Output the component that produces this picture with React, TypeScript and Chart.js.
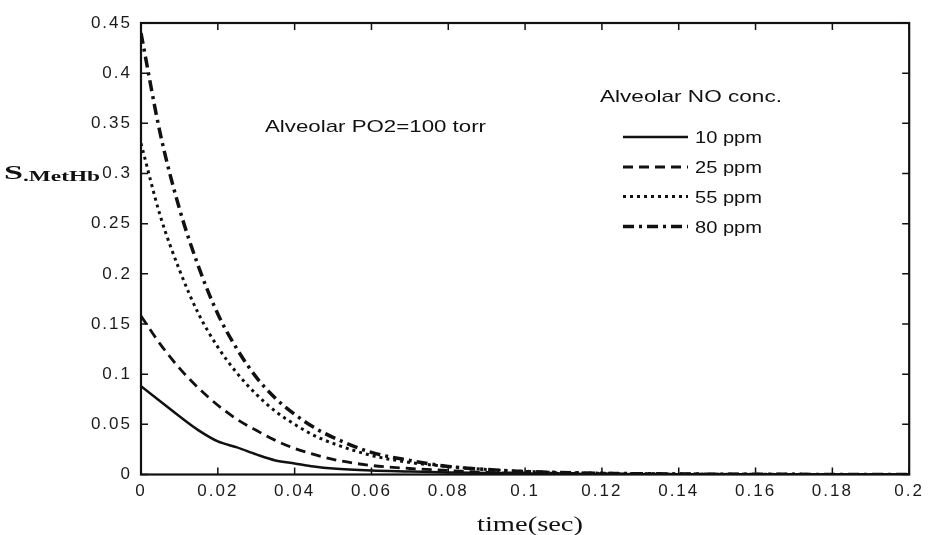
import React, { useEffect, useRef } from "react";
import { Chart, registerables } from "chart.js";

Chart.register(...registerables);

const timeSec = [0, 0.005, 0.01, 0.015, 0.02, 0.025, 0.03, 0.035, 0.04, 0.045, 0.05, 0.06, 0.07, 0.08, 0.09, 0.1, 0.12, 0.14, 0.16, 0.18, 0.2];
const ppm10 = [0.088, 0.073, 0.058, 0.044, 0.033, 0.027, 0.02, 0.014, 0.011, 0.008, 0.006, 0.004, 0.003, 0.002, 0.0015, 0.001, 0.0005, 0.0003, 0.0002, 0.0001, 0.0001];
const ppm25 = [0.158, 0.13, 0.106, 0.086, 0.069, 0.055, 0.044, 0.034, 0.026, 0.02, 0.015, 0.009, 0.006, 0.004, 0.002, 0.0015, 0.0008, 0.0004, 0.0002, 0.0001, 0];
const ppm55 = [0.33, 0.258, 0.204, 0.16, 0.127, 0.101, 0.08, 0.063, 0.05, 0.039, 0.031, 0.019, 0.012, 0.008, 0.005, 0.003, 0.0013, 0.0005, 0.0002, 0.0001, 0];
const ppm80 = [0.44, 0.34, 0.265, 0.207, 0.16, 0.125, 0.097, 0.076, 0.06, 0.047, 0.037, 0.022, 0.014, 0.008, 0.005, 0.003, 0.0012, 0.0005, 0.0002, 0.0001, 0];

const seriesLabels = ["10 ppm", "25 ppm", "55 ppm", "80 ppm"];
const xTickValues = [0, 0.02, 0.04, 0.06, 0.08, 0.1, 0.12, 0.14, 0.16, 0.18, 0.2];
const yTickValues = [0, 0.05, 0.1, 0.15, 0.2, 0.25, 0.3, 0.35, 0.4, 0.45];

const xTitle = "time(sec)";
const legendTitle = "Alveolar NO conc.";
const noteText = "Alveolar PO2=100 torr";

const seriesStyles = [
  { dash: [] as number[], width: 2.5 },
  { dash: [10, 6], width: 2.8 },
  { dash: [3, 4], width: 3 },
  { dash: [11, 5, 3, 5], width: 3.5 },
];

function fmt(v: number) {
  return String(Number(v.toFixed(2)));
}

function drawFit(ctx: CanvasRenderingContext2D, text: string, font: string, x: number, y: number, width: number) {
  ctx.save();
  ctx.font = font;
  (ctx as any).letterSpacing = "0px";
  ctx.textAlign = "left";
  ctx.textBaseline = "alphabetic";
  const w = ctx.measureText(text).width;
  ctx.translate(x, y);
  ctx.scale(width / w, 1);
  ctx.fillText(text, 0, 0);
  ctx.restore();
}

const framePlugin = {
  id: "framePlugin",
  beforeDraw(chart: any) {
    (chart.ctx as any).letterSpacing = "2px";
  },
  afterDatasetsDraw(chart: any) {
    const ctx: CanvasRenderingContext2D = chart.ctx;
    const a = chart.chartArea;
    const xs = chart.scales.x;
    const ys = chart.scales.y;
    ctx.save();
    ctx.strokeStyle = "#111";
    ctx.setLineDash([]);
    ctx.lineWidth = 2.2;
    ctx.strokeRect(a.left, a.top, a.right - a.left, a.bottom - a.top);
    ctx.lineWidth = 1.5;
    const tl = 7;
    ctx.beginPath();
    xTickValues.forEach((v) => {
      const px = xs.getPixelForValue(v);
      ctx.moveTo(px, a.bottom);
      ctx.lineTo(px, a.bottom - tl);
      ctx.moveTo(px, a.top);
      ctx.lineTo(px, a.top + tl);
    });
    yTickValues.forEach((v) => {
      const py = ys.getPixelForValue(v);
      ctx.moveTo(a.left, py);
      ctx.lineTo(a.left + tl, py);
      ctx.moveTo(a.right, py);
      ctx.lineTo(a.right - tl, py);
    });
    ctx.stroke();
    ctx.restore();
  },
  afterDraw(chart: any) {
    const ctx: CanvasRenderingContext2D = chart.ctx;
    (ctx as any).letterSpacing = "0px";
    ctx.save();
    ctx.fillStyle = "#111";
    drawFit(ctx, noteText, "17px 'Liberation Sans', Arial, sans-serif", 265, 132, 221);
    drawFit(ctx, legendTitle, "17px 'Liberation Sans', Arial, sans-serif", 600, 102, 182);
    const rowsY = [137, 167, 196.5, 226.5];
    chart.data.datasets.forEach((ds: any, i: number) => {
      const y = rowsY[i];
      ctx.save();
      ctx.strokeStyle = "#111";
      ctx.lineWidth = ds.borderWidth;
      ctx.setLineDash(ds.borderDash || []);
      ctx.beginPath();
      ctx.moveTo(623, y);
      ctx.lineTo(688, y);
      ctx.stroke();
      ctx.restore();
      drawFit(ctx, ds.label, "17px 'Liberation Sans', Arial, sans-serif", 695, y + 6, 67);
    });
    // y label S.MetHb
    drawFit(ctx, "S", "bold 19px 'Liberation Serif', 'Times New Roman', serif", 4, 179, 19);
    drawFit(ctx, ".MetHb", "bold 14px 'Liberation Serif', 'Times New Roman', serif", 23, 180.5, 77);
    drawFit(ctx, xTitle, "22px 'Liberation Serif', 'Times New Roman', serif", 477, 531, 106);
    ctx.restore();
  },
};

export default function App() {
  const ref = useRef<HTMLCanvasElement | null>(null);
  useEffect(() => {
    if (!ref.current) return;
    const data = [ppm10, ppm25, ppm55, ppm80];
    const chart = new Chart(ref.current, {
      type: "line",
      data: {
        datasets: data.map((arr, i) => ({
          label: seriesLabels[i],
          data: timeSec.map((t, j) => ({ x: t, y: arr[j] })),
          borderColor: "#111",
          borderWidth: seriesStyles[i].width,
          borderDash: seriesStyles[i].dash,
          pointRadius: 0,
          cubicInterpolationMode: "monotone" as const,
          fill: false,
        })),
      },
      options: {
        responsive: false,
        animation: false,
        layout: { padding: { top: 23, right: 14.5, left: 0, bottom: 0 } },
        plugins: { legend: { display: false }, tooltip: { enabled: false } },
        scales: {
          x: {
            type: "linear",
            min: 0,
            max: 0.2,
            afterBuildTicks: (s: any) => {
              s.ticks = xTickValues.map((v) => ({ value: v }));
            },
            afterFit: (s: any) => {
              s.height = 60.5;
            },
            grid: { display: false, drawTicks: false },
            border: { display: false },
            ticks: {
              padding: 7,
              color: "#1a1a1a",
              maxRotation: 0,
              autoSkip: false,
              font: { family: "'Liberation Sans', Arial, sans-serif", size: 17 },
              callback: (v: any) => fmt(Number(v)),
            },
          },
          y: {
            type: "linear",
            min: 0,
            max: 0.45,
            afterBuildTicks: (s: any) => {
              s.ticks = yTickValues.map((v) => ({ value: v }));
            },
            afterFit: (s: any) => {
              s.width = 141;
            },
            grid: { display: false, drawTicks: false },
            border: { display: false },
            ticks: {
              padding: 9,
              color: "#1a1a1a",
              autoSkip: false,
              font: { family: "'Liberation Sans', Arial, sans-serif", size: 17 },
              callback: (v: any) => fmt(Number(v)),
            },
          },
        },
      },
      plugins: [framePlugin],
    });
    return () => chart.destroy();
  }, []);
  return (
    <div style={{ position: "absolute", left: 0, top: 0, width: 928, height: 535, background: "#fff" }}>
      <canvas ref={ref} width={928} height={535} style={{ display: "block" }} />
    </div>
  );
}
